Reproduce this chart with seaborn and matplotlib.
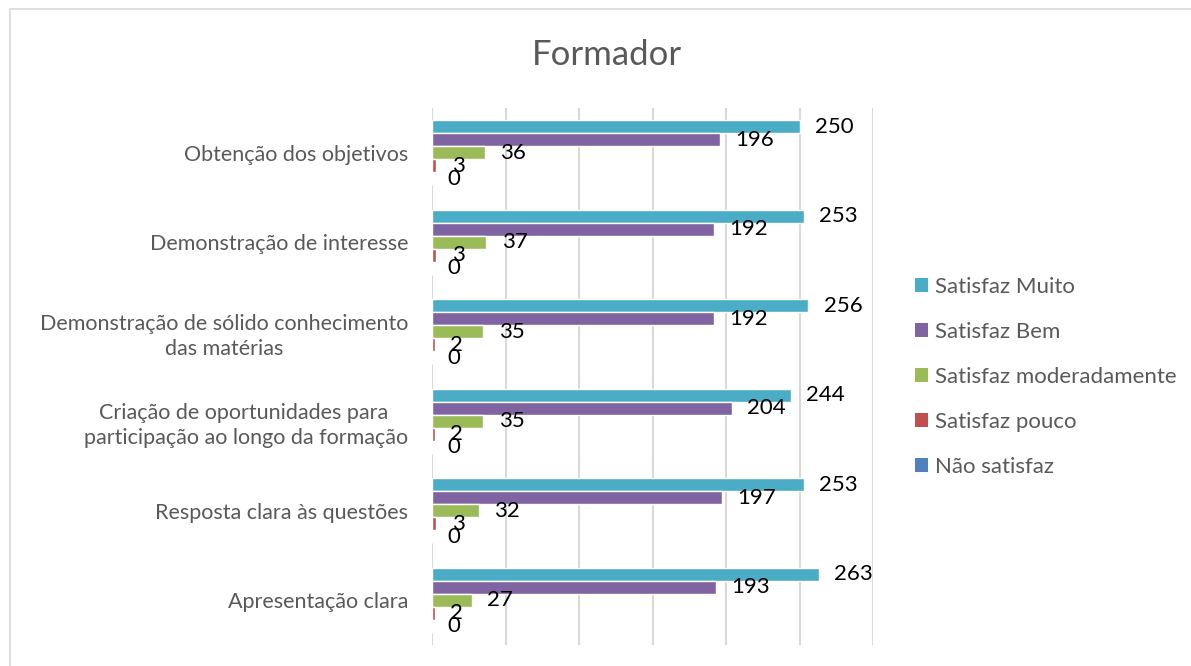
import pandas as pd
import numpy as np
import matplotlib.pyplot as plt
import seaborn as sns
from matplotlib.patches import Rectangle, Patch

categorias = [
    "Obtenção dos objetivos",
    "Demonstração de interesse",
    "Demonstração de sólido conhecimento\ndas matérias",
    "Criação de oportunidades para \nparticipação ao longo da formação",
    "Resposta clara às questões",
    "Apresentação clara",
]
series = ["Satisfaz Muito", "Satisfaz Bem", "Satisfaz moderadamente",
          "Satisfaz pouco", "Não satisfaz"]
satisfaz_muito = [250, 253, 256, 244, 253, 263]
satisfaz_bem = [196, 192, 192, 204, 197, 193]
satisfaz_moderadamente = [36, 37, 35, 35, 32, 27]
satisfaz_pouco = [3, 3, 2, 2, 3, 2]
nao_satisfaz = [0, 0, 0, 0, 0, 0]
cores = ["#4BACC6", "#8064A2", "#9BBB59", "#C0504D", "#4F81BD"]

valores = [satisfaz_muito, satisfaz_bem, satisfaz_moderadamente,
           satisfaz_pouco, nao_satisfaz]
rows = []
for s, vals in zip(series, valores):
    for c, v in zip(categorias, vals):
        rows.append({"categoria": c, "serie": s, "valor": v})
df = pd.DataFrame(rows)

sns.set_theme(style="white")
plt.rcParams['font.family'] = ['Lato', 'DejaVu Sans']
cinza = "#595959"

fig = plt.figure(figsize=(11.91, 6.66), dpi=100)
ax = fig.add_axes([432 / 1191, 1 - 645 / 666, (873 - 432) / 1191, (645 - 108) / 666])

sns.barplot(data=df, y="categoria", x="valor", hue="serie", order=categorias,
            hue_order=series, palette=cores, orient="h", width=0.73,
            saturation=1, ax=ax, legend=False)

# rótulos de valor à direita de cada barra
for cont in ax.containers:
    labels = ax.bar_label(cont, padding=11, fontsize=16, color="black")
    for t in labels:
        t.set_va("center")

ax.set_xlim(0, 300)
ax.set_xticks(np.arange(0, 301, 50))
ax.set_xticklabels([])
ax.grid(axis="x", color="#D9D9D9", linewidth=1.5)
ax.grid(axis="y", visible=False)
ax.set_axisbelow(True)
for sp in ax.spines.values():
    sp.set_visible(False)
ax.tick_params(axis="both", length=0)
ax.tick_params(axis="y", pad=17, labelsize=15.5, labelcolor=cinza)
for lbl in ax.get_yticklabels():
    lbl.set_multialignment("center")
    lbl.set_linespacing(1.3)
ax.set_xlabel("")
ax.set_ylabel("")

fig.text(607 / 1191, 1 - 55 / 666, "Formador", ha="center", va="center",
         fontsize=25, color=cinza)

handles = [Patch(facecolor=c, edgecolor="none") for c in cores]
fig.legend(handles, series, loc="center left",
           bbox_to_anchor=(915 / 1191, 1 - 377 / 666), frameon=False,
           fontsize=16, labelcolor=cinza, handlelength=0.59, handleheight=0.59,
           handletextpad=0.32, labelspacing=1.13, borderpad=0,
           borderaxespad=0)

fig.patches.append(Rectangle((10 / 1191, -0.2), 1.2, 1.2 - 9 / 666,
                             transform=fig.transFigure, fill=False,
                             edgecolor="#D9D9D9", linewidth=1.2))

fig.savefig("out.png", dpi=100)
